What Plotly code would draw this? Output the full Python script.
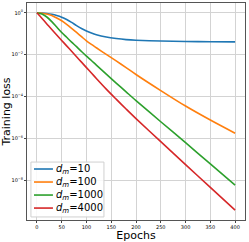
import plotly.graph_objects as go

epochs = [0, 10, 20, 30, 40, 50, 60, 70, 80, 90, 100, 110, 120, 140, 160, 180, 200, 250, 300, 350, 400]

# log10 of training loss
loss_d10_log = [0, -0.01, -0.03, -0.07, -0.13, -0.21, -0.32, -0.46, -0.61, -0.75, -0.87, -0.97, -1.05, -1.16, -1.23, -1.28, -1.31, -1.35, -1.37, -1.38, -1.39]
loss_d100_log = [0, -0.02, -0.06, -0.13, -0.25, -0.38, -0.55, -0.74, -0.94, -1.14, -1.34, -1.51, -1.67, -1.99, -2.3, -2.62, -2.95, -3.72, -4.46, -5.13, -5.76]
loss_d1000_log = [0, -0.06, -0.2, -0.42, -0.68, -0.94, -1.17, -1.4, -1.62, -1.85, -2.07, -2.28, -2.5, -2.93, -3.36, -3.78, -4.2, -5.21, -6.21, -7.23, -8.24]
loss_d4000_log = [0, -0.26, -0.53, -0.8, -1.06, -1.32, -1.58, -1.84, -2.1, -2.36, -2.62, -2.88, -3.14, -3.65, -4.13, -4.6, -5.06, -6.16, -7.26, -8.35, -9.44]

series_names = ["<i>d</i><sub><i>m</i></sub>=10", "<i>d</i><sub><i>m</i></sub>=100",
                "<i>d</i><sub><i>m</i></sub>=1000", "<i>d</i><sub><i>m</i></sub>=4000"]
series_logs = [loss_d10_log, loss_d100_log, loss_d1000_log, loss_d4000_log]
colors = ["#1f77b4", "#ff7f0e", "#2ca02c", "#d62728"]

x_ticks = [0, 50, 100, 150, 200, 250, 300, 350, 400]
y_tick_exps = [0, -2, -4, -6, -8]
y_tick_text = ["10<sup>0</sup>", "10<sup>\u22122</sup>", "10<sup>\u22124</sup>", "10<sup>\u22126</sup>", "10<sup>\u22128</sup>"]

fig = go.Figure()
for name, logs, c in zip(series_names, series_logs, colors):
    fig.add_trace(go.Scatter(
        x=epochs, y=[10 ** v for v in logs], mode="lines", name=name,
        line=dict(color=c, width=1.6, shape="spline", smoothing=0.8)))

# compact legend (matplotlib style) drawn in paper coordinates
legend_box = dict(x0=0.018, x1=0.353, y0=0.014, y1=0.267)
entry_y = [0.235, 0.175, 0.115, 0.055]
fig.add_shape(type="rect", xref="paper", yref="paper", **legend_box,
              fillcolor="rgba(255,255,255,0.85)", line=dict(color="#d0d0d0", width=1), layer="above")
for name, c, yy in zip(series_names, colors, entry_y):
    fig.add_shape(type="line", xref="paper", yref="paper", x0=0.032, x1=0.119, y0=yy, y1=yy,
                  line=dict(color=c, width=1.6), layer="above")
    fig.add_annotation(xref="paper", yref="paper", x=0.128, y=yy, text=name, showarrow=False,
                       xanchor="left", yanchor="middle", font=dict(size=10), borderpad=0)

fig.update_layout(
    width=249, height=242,
    margin=dict(l=27, r=4, t=3, b=22),
    paper_bgcolor="white", plot_bgcolor="white",
    font=dict(family="DejaVu Sans", color="black"),
    showlegend=False,
)
fig.update_xaxes(
    range=[-20, 420], tickvals=x_ticks, ticktext=[str(t) for t in x_ticks],
    tickfont=dict(size=5), ticks="outside", ticklen=2, tickcolor="#444",
    showgrid=True, gridcolor="#d3d3d3", gridwidth=1, automargin=False,
    showline=True, linecolor="#555", linewidth=1, mirror=True, zeroline=False,
    title=dict(text="Epochs", font=dict(size=11), standoff=0),
)
fig.update_yaxes(
    type="log", range=[-9.91, 0.47],
    tickvals=[10 ** e for e in y_tick_exps], ticktext=y_tick_text,
    tickfont=dict(size=5), ticks="outside", ticklen=2, tickcolor="#444",
    showgrid=True, gridcolor="#d3d3d3", gridwidth=1, automargin=False,
    showline=True, linecolor="#555", linewidth=1, mirror=True, zeroline=False,
    title=dict(text="Training loss", font=dict(size=11), standoff=0),
)
fig.write_html("out.html", config={"displayModeBar": False},
               post_script="document.body.style.margin='0';document.body.style.padding='0';")
